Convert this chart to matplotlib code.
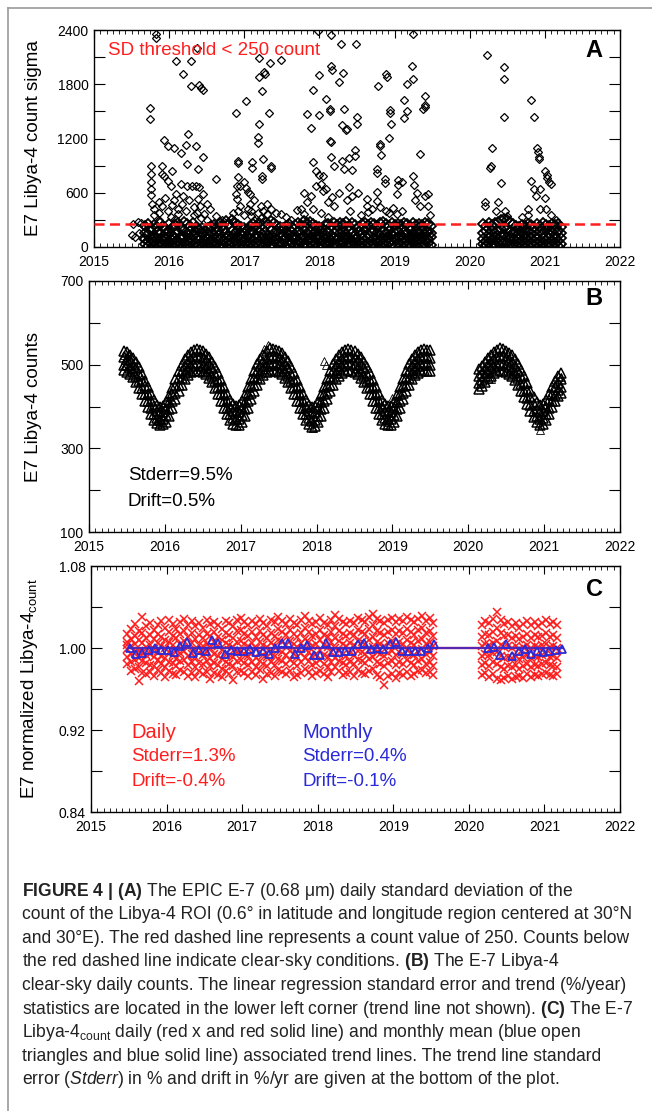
#!/usr/bin/env python3
"""
EPIC E-7 Libya-4 stability figure (3 stacked panels + caption)
"""

import numpy as np
import matplotlib
matplotlib.use("Agg")
import matplotlib.pyplot as plt
from matplotlib.lines import Line2D
from matplotlib.ticker import MultipleLocator

plt.rcParams['font.family'] = ['Liberation Sans', 'DejaVu Sans']
plt.rcParams['mathtext.fontset'] = 'custom'
plt.rcParams['mathtext.rm'] = 'Liberation Sans'
plt.rcParams['mathtext.it'] = 'Liberation Sans:italic'
plt.rcParams['mathtext.bf'] = 'Liberation Sans:bold'

# ---------------------------------------------------------------- data
# Panel A: daily count sigma. Dense clear-sky band (4 readings per ~2 weeks)
a_band1 = [
    [235, 160, 85, 30], [250, 140, 70, 15], [210, 175, 95, 40], [245, 120, 60, 10],
    [225, 165, 100, 25], [260, 150, 55, 20], [230, 110, 75, 35], [200, 145, 90, 12],
    [255, 180, 65, 28], [215, 130, 80, 18], [240, 155, 105, 45], [270, 170, 60, 22],
    [225, 125, 85, 30], [280, 190, 110, 40], [250, 145, 70, 15], [235, 175, 95, 50],
    [265, 135, 65, 25], [220, 160, 100, 35], [195, 120, 80, 20], [210, 150, 55, 10],
    [175, 115, 70, 30], [205, 140, 90, 15], [230, 165, 75, 40], [245, 130, 60, 20],
    [220, 170, 105, 35], [260, 145, 85, 25], [240, 185, 70, 18], [285, 160, 95, 40],
    [255, 125, 80, 30], [300, 175, 110, 45], [270, 150, 65, 22], [245, 190, 100, 35],
    [225, 140, 85, 28], [210, 160, 75, 15], [190, 125, 60, 20], [230, 155, 90, 30],
    [250, 170, 80, 25], [235, 135, 100, 40], [265, 180, 70, 20], [240, 145, 95, 35],
    [275, 165, 85, 30], [250, 130, 75, 45], [290, 185, 105, 25], [260, 155, 70, 15],
    [235, 175, 90, 35], [225, 140, 60, 20], [205, 125, 80, 30], [230, 160, 100, 12],
    [255, 145, 70, 25], [220, 170, 95, 40], [245, 135, 85, 20], [270, 180, 65, 30],
    [240, 155, 100, 45], [285, 190, 110, 35], [260, 150, 80, 25], [275, 165, 95, 40],
    [250, 140, 70, 20], [235, 175, 100, 30], [225, 130, 85, 15], [210, 160, 75, 25],
    [240, 145, 95, 35], [255, 170, 60, 20], [230, 125, 80, 40], [265, 155, 100, 28],
    [245, 180, 90, 18], [270, 150, 70, 32], [250, 165, 105, 45], [280, 140, 85, 25],
    [235, 175, 95, 35], [260, 160, 75, 20], [245, 135, 90, 30], [225, 170, 65, 15],
    [250, 150, 100, 40], [265, 185, 80, 25], [240, 140, 95, 35], [270, 165, 70, 20],
    [255, 175, 105, 30], [235, 150, 85, 45], [260, 130, 75, 25], [280, 170, 95, 35],
    [250, 155, 65, 20], [230, 180, 100, 40], [265, 145, 80, 30], [245, 160, 90, 15],
    [255, 175, 110, 35], [240, 135, 75, 25], [270, 165, 95, 40], [250, 150, 70, 20],
    [235, 185, 105, 30], [260, 140, 85, 45], [245, 170, 95, 25], [255, 155, 80, 35],
    [240, 180, 100, 20], [265, 145, 75, 30], [250, 165, 90, 40], [235, 150, 110, 25],
]
a_band2 = [
    [250, 160, 90, 30], [235, 175, 70, 20], [260, 140, 100, 40], [245, 180, 85, 25],
    [270, 155, 110, 35], [280, 190, 95, 45], [300, 200, 120, 50], [310, 210, 130, 55],
    [295, 195, 115, 45], [275, 170, 100, 35], [250, 150, 85, 25], [235, 165, 70, 20],
    [220, 140, 90, 30], [245, 160, 75, 15], [230, 135, 95, 40], [255, 175, 80, 25],
    [240, 150, 100, 35], [225, 165, 70, 20], [250, 140, 90, 30], [235, 170, 60, 15],
    [260, 150, 95, 40], [245, 185, 80, 25], [230, 145, 100, 35], [250, 165, 75, 20],
    [240, 130, 90, 30], [255, 175, 70, 15], [225, 150, 95, 35],
]
a_band1_years = np.linspace(2015.68, 2019.48, len(a_band1))
a_band2_years = np.linspace(2020.18, 2021.22, len(a_band2))

# cloudy / scattered days (year, sigma)
a_scatter = [
    (2015.50, 130), (2015.52, 250), (2015.55, 110), (2015.58, 275), (2015.60, 160),
    (2015.62, 265), (2015.64, 95), (2015.66, 230),
    (2015.74, 1532), (2015.74, 1412), (2015.76, 894), (2015.76, 803), (2015.76, 723),
    (2015.76, 639), (2015.76, 574), (2015.77, 480), (2015.80, 420), (2015.80, 350),
    (2015.83, 2352), (2015.83, 2308), (2015.86, 500), (2015.86, 380), (2015.87, 300),
    (2015.90, 894), (2015.90, 803), (2015.91, 450), (2015.93, 1186), (2015.93, 785),
    (2015.94, 540), (2015.98, 1113), (2015.98, 730), (2015.99, 400), (2016.02, 680),
    (2016.02, 330), (2016.04, 840), (2016.04, 460), (2016.07, 1095), (2016.07, 520),
    (2016.08, 310), (2016.09, 2060), (2016.09, 585), (2016.12, 420), (2016.12, 360),
    (2016.16, 1040), (2016.16, 694), (2016.17, 480), (2016.19, 1915), (2016.19, 560),
    (2016.23, 1131), (2016.23, 400), (2016.24, 913), (2016.24, 676), (2016.25, 1251),
    (2016.26, 520), (2016.29, 2053), (2016.29, 1780), (2016.30, 676), (2016.33, 440),
    (2016.33, 350), (2016.36, 1120), (2016.36, 676), (2016.37, 380), (2016.37, 2199),
    (2016.38, 858), (2016.38, 530), (2016.40, 1787), (2016.40, 661), (2016.41, 450),
    (2016.42, 1762), (2016.42, 320), (2016.45, 1732), (2016.45, 992), (2016.45, 585),
    (2016.46, 360), (2016.50, 480), (2016.50, 300), (2016.55, 420), (2016.62, 749),
    (2016.62, 340), (2016.70, 300), (2016.85, 380), (2016.85, 290), (2016.89, 1478),
    (2016.89, 585), (2016.90, 676), (2016.90, 530), (2016.91, 402), (2016.91, 949),
    (2016.92, 934), (2016.92, 770), (2016.94, 676), (2016.94, 450), (2017.00, 715),
    (2017.00, 350), (2017.02, 1616), (2017.02, 650), (2017.05, 606), (2017.05, 420),
    (2017.08, 585), (2017.08, 475), (2017.09, 402), (2017.09, 348), (2017.10, 942),
    (2017.10, 869), (2017.13, 520), (2017.13, 300), (2017.18, 1150), (2017.18, 1215),
    (2017.18, 380), (2017.19, 2090), (2017.20, 1361), (2017.20, 1878), (2017.22, 450),
    (2017.22, 320), (2017.23, 1721), (2017.23, 785), (2017.24, 749), (2017.25, 975),
    (2017.25, 400), (2017.26, 1932), (2017.27, 1915), (2017.30, 370), (2017.30, 480),
    (2017.33, 1478), (2017.34, 2031), (2017.35, 894), (2017.35, 876), (2017.36, 420),
    (2017.42, 380), (2017.49, 2068), (2017.49, 370), (2017.55, 330), (2017.62, 300),
    (2017.70, 410), (2017.76, 420), (2017.80, 370), (2017.80, 600), (2017.84, 1467),
    (2017.84, 500), (2017.89, 1314), (2017.89, 560), (2017.91, 1732), (2017.91, 940),
    (2017.92, 420), (2017.95, 840), (2017.95, 680), (2017.98, 2388), (2017.99, 1907),
    (2017.99, 1459), (2018.00, 800), (2018.02, 700), (2018.02, 380), (2018.05, 780),
    (2018.05, 620), (2018.09, 1634), (2018.09, 640), (2018.12, 500), (2018.12, 330),
    (2018.14, 1525), (2018.14, 1506), (2018.14, 1175), (2018.15, 1157), (2018.15, 1000),
    (2018.16, 2345), (2018.16, 1998), (2018.17, 1959), (2018.17, 550), (2018.20, 900),
    (2018.20, 450), (2018.26, 1823), (2018.26, 600), (2018.29, 2250), (2018.30, 1350),
    (2018.30, 950), (2018.31, 1922), (2018.33, 1525), (2018.33, 860), (2018.36, 1295),
    (2018.37, 1310), (2018.37, 520), (2018.40, 980), (2018.40, 660), (2018.41, 400),
    (2018.44, 850), (2018.44, 560), (2018.47, 1003), (2018.47, 1077), (2018.49, 2250),
    (2018.50, 1434), (2018.50, 1357), (2018.51, 600), (2018.55, 350), (2018.63, 530),
    (2018.63, 450), (2018.64, 390), (2018.70, 420), (2018.76, 866), (2018.76, 814),
    (2018.77, 607), (2018.77, 512), (2018.78, 1780), (2018.80, 1142), (2018.80, 1120),
    (2018.81, 440), (2018.82, 1022), (2018.87, 749), (2018.87, 713), (2018.88, 400),
    (2018.89, 1915), (2018.90, 1878), (2018.93, 1211), (2018.93, 380), (2018.94, 1514),
    (2018.94, 1481), (2018.95, 1361), (2018.98, 430), (2019.03, 585), (2019.03, 360),
    (2019.05, 745), (2019.05, 690), (2019.10, 720), (2019.10, 400), (2019.12, 1623),
    (2019.13, 1430), (2019.16, 1506), (2019.17, 1805), (2019.23, 2006), (2019.24, 2359),
    (2019.24, 1853), (2019.25, 785), (2019.26, 690), (2019.27, 520), (2019.30, 600),
    (2019.34, 1029), (2019.34, 450), (2019.38, 1521), (2019.40, 1543), (2019.40, 1568),
    (2019.41, 560), (2019.41, 1667), (2019.44, 590), (2019.44, 450), (2019.47, 350),
    (2020.21, 500), (2020.21, 450), (2020.23, 2122), (2020.27, 869), (2020.28, 894),
    (2020.29, 1098), (2020.35, 400), (2020.38, 497), (2020.41, 713), (2020.45, 1987),
    (2020.45, 1856), (2020.46, 1440), (2020.47, 400), (2020.50, 345), (2020.70, 330),
    (2020.78, 420), (2020.78, 350), (2020.82, 1623), (2020.82, 727), (2020.85, 1440),
    (2020.85, 640), (2020.88, 560), (2020.90, 1100), (2020.91, 1050), (2020.92, 1000),
    (2020.92, 970), (2020.93, 640), (2020.93, 420), (2021.00, 840), (2021.00, 540),
    (2021.01, 420), (2021.03, 800), (2021.03, 760), (2021.06, 720), (2021.08, 694),
    (2021.08, 350), (2021.15, 300),
]
a_threshold = 250

# Panel B: clear-sky daily counts (4 readings per ~2 weeks across the band)
b_band1 = [
    [532, 518, 500, 488], [530, 514, 499, 483], [524, 511, 492, 478], [517, 500, 486, 470],
    [506, 492, 473, 459], [494, 477, 462, 445], [478, 464, 445, 431], [461, 448, 430, 414],
    [446, 429, 413, 398], [430, 414, 396, 382], [415, 401, 383, 368], [404, 390, 373, 360],
    [400, 386, 368, 356], [402, 388, 370, 357], [411, 395, 379, 364], [426, 411, 394, 378],
    [445, 430, 412, 397], [466, 449, 432, 417], [484, 469, 451, 436], [500, 485, 468, 452],
    [513, 498, 481, 466], [523, 507, 490, 476], [531, 514, 496, 482], [536, 519, 501, 486],
    [538, 520, 503, 485], [535, 518, 500, 484], [532, 516, 498, 483], [526, 510, 493, 478],
    [518, 502, 485, 469], [507, 491, 474, 458], [494, 478, 461, 445], [479, 463, 446, 430],
    [463, 447, 430, 414], [446, 430, 413, 397], [430, 414, 397, 381], [416, 400, 383, 367],
    [405, 390, 373, 358], [401, 386, 369, 355], [403, 387, 370, 356], [412, 396, 379, 363],
    [427, 411, 394, 378], [446, 430, 413, 397], [466, 450, 433, 417], [485, 469, 452, 436],
    [501, 485, 468, 452], [514, 498, 481, 465], [524, 507, 490, 475], [532, 514, 497, 482],
    [540, 519, 502, 486], [537, 520, 503, 487], [536, 519, 502, 485], [533, 516, 499, 483],
    [527, 510, 493, 477], [519, 502, 485, 469], [508, 491, 474, 458], [495, 478, 461, 445],
    [480, 463, 446, 430], [464, 447, 430, 414], [447, 430, 413, 397], [431, 414, 397, 381],
    [416, 400, 383, 367], [404, 389, 372, 357], [399, 384, 366, 352], [401, 386, 368, 353],
    [411, 396, 378, 363], [427, 411, 394, 378], [446, 430, 413, 397], [466, 450, 433, 417],
    [485, 469, 452, 436], [501, 485, 468, 452], [514, 498, 481, 465], [523, 507, 490, 474],
    [531, 514, 497, 481], [536, 519, 502, 486], [537, 520, 503, 487], [535, 519, 502, 486],
    [532, 516, 499, 483], [526, 510, 493, 477], [518, 502, 485, 469], [507, 491, 474, 458],
    [494, 478, 461, 445], [479, 463, 446, 430], [463, 447, 430, 414], [446, 430, 413, 397],
    [430, 414, 397, 381], [416, 400, 383, 367], [405, 390, 373, 358], [401, 386, 369, 355],
    [402, 387, 370, 356], [411, 396, 379, 363], [427, 411, 394, 378], [446, 430, 413, 397],
    [466, 450, 433, 417], [485, 469, 452, 436], [501, 485, 468, 452], [514, 498, 481, 465],
    [523, 507, 490, 475], [530, 514, 497, 481], [535, 519, 502, 486], [537, 520, 503, 487],
    [536, 519, 502, 485], [534, 517, 500, 484],
]
b_band2 = [
    [490, 474, 457, 443], [497, 481, 464, 449], [506, 490, 473, 458], [515, 499, 482, 467],
    [523, 506, 489, 474], [530, 513, 495, 480], [535, 518, 500, 485], [539, 521, 503, 487],
    [537, 520, 502, 486], [533, 517, 499, 483], [528, 512, 494, 478], [522, 506, 488, 472],
    [513, 497, 479, 463], [502, 486, 468, 452], [488, 472, 454, 438], [472, 456, 438, 422],
    [455, 439, 421, 405], [438, 422, 404, 389], [422, 407, 389, 374], [410, 395, 377, 362],
    [403, 388, 370, 356], [405, 390, 372, 358], [415, 400, 382, 367], [430, 415, 397, 382],
    [446, 431, 413, 398], [461, 446, 428, 413], [472, 457, 439, 424], [479, 465, 447, 432],
]
b_band1_years = np.linspace(2015.46, 2019.50, len(b_band1))
b_band2_years = np.linspace(2020.14, 2021.22, len(b_band2))
b_scatter = [
    (2015.46, 522), (2015.48, 512), (2015.52, 525), (2015.47, 500), (2016.02, 415),
    (2015.95, 362), (2017.36, 548), (2017.31, 538), (2018.10, 508), (2018.13, 500),
    (2017.95, 348), (2018.93, 362), (2019.00, 420), (2020.95, 345), (2020.30, 465),
    (2021.22, 470),
]

# Panel C: normalized counts, daily spread in per-mille deviation from 1
c_daily1 = [
    [14, 6, -1, -9, -16, 3], [19, 9, 2, -6, -14, -22], [23, 12, 4, -4, -12, -20],
    [17, 8, -3, -10, -19, -32], [30, 15, 5, -5, -13, -24], [21, 10, 1, -7, -15, -25],
    [24, 13, 3, -6, -17, -23], [18, 9, -1, -9, -18, -27], [22, 14, 5, -3, -12, -21],
    [26, 11, 2, -8, -16, -24], [20, 8, 0, -10, -19, -28], [27, 16, 6, -4, -14, -22],
    [23, 12, 3, -7, -15, -25], [19, 10, -2, -11, -18, -26], [25, 14, 4, -5, -13, -21],
    [28, 17, 7, -3, -12, -23], [22, 11, 1, -8, -17, -27], [26, 15, 5, -6, -14, -24],
    [21, 9, -1, -9, -19, -28], [24, 13, 3, -5, -15, -22], [20, 10, 2, -7, -16, -25],
    [27, 14, 4, -4, -13, -23], [23, 12, 0, -10, -18, -30], [25, 16, 6, -6, -15, -24],
    [22, 11, 2, -8, -17, -26], [19, 8, -2, -11, -20, -28], [26, 15, 5, -5, -14, -22],
    [24, 13, 3, -7, -16, -25], [21, 10, 1, -9, -18, -31], [27, 17, 6, -4, -13, -23],
    [29, 18, 7, -3, -12, -22], [25, 14, 4, -6, -15, -24], [22, 12, 2, -8, -17, -27],
    [26, 16, 5, -5, -14, -23], [23, 11, 0, -10, -19, -26], [28, 17, 6, -4, -13, -21],
    [24, 13, 3, -7, -16, -30], [21, 10, 1, -9, -18, -25], [27, 15, 5, -5, -14, -24],
    [25, 12, 2, -8, -17, -27], [30, 19, 8, -2, -11, -21], [26, 16, 6, -4, -13, -23],
    [23, 13, 3, -7, -16, -25], [28, 18, 7, -3, -12, -22], [24, 14, 4, -6, -15, -28],
    [22, 11, 1, -9, -18, -26], [27, 15, 5, -5, -14, -24], [31, 20, 9, -1, -10, -20],
    [26, 16, 6, -4, -13, -23], [23, 12, 2, -8, -17, -27], [25, 14, 4, -6, -15, -24],
    [29, 18, 8, -2, -12, -22], [24, 13, 3, -7, -16, -25], [22, 11, 1, -9, -19, -28],
    [27, 16, 6, -4, -14, -23], [32, 21, 10, 0, -10, -19], [28, 17, 7, -3, -13, -22],
    [25, 14, 4, -6, -15, -26], [23, 12, 2, -8, -17, -24], [26, 15, 5, -5, -14, -23],
    [24, 13, 3, -7, -16, -27], [29, 18, 7, -3, -12, -21], [27, 16, 6, -4, -13, -24],
    [25, 14, 4, -6, -15, -25], [30, 19, 8, -2, -11, -22], [33, 22, 11, 1, -9, -20],
    [28, 17, 6, -4, -14, -26], [26, 15, 4, -6, -16, -28], [24, 13, 2, -8, -18, -36],
    [27, 16, 5, -5, -15, -27], [29, 18, 7, -3, -13, -25], [25, 14, 3, -7, -17, -29],
    [28, 17, 6, -4, -14, -24], [26, 15, 4, -6, -16, -26], [30, 19, 8, -2, -12, -23],
    [27, 16, 5, -5, -15, -27], [25, 13, 3, -7, -17, -25], [28, 18, 7, -3, -13, -22],
    [31, 20, 9, -1, -11, -21], [26, 15, 4, -6, -16, -24], [29, 17, 6, -4, -14, -23],
    [24, 12, 2, -8, -18, -26],
]
c_daily2 = [
    [22, 11, 2, -8, -17, -26], [26, 14, 4, -6, -15, -24], [24, 13, 3, -7, -18, -28],
    [28, 16, 5, -5, -14, -25], [35, 20, 7, -4, -16, -30], [27, 15, 3, -8, -19, -31],
    [23, 12, 1, -10, -20, -29], [25, 13, 2, -9, -18, -27], [21, 10, 0, -10, -19, -30],
    [24, 12, 2, -8, -17, -28], [20, 9, -1, -11, -20, -27], [23, 11, 1, -9, -18, -29],
    [26, 14, 3, -7, -16, -25], [22, 10, 0, -10, -19, -28], [25, 13, 2, -8, -17, -26],
    [21, 11, 1, -9, -18, -27], [24, 12, 3, -7, -16, -25], [27, 15, 4, -6, -15, -24],
    [23, 11, 1, -9, -17, -26], [25, 13, 2, -8, -18, -27], [22, 10, 0, -10, -19, -25],
]
c_daily1_years = np.linspace(2015.48, 2019.53, len(c_daily1))
c_daily2_years = np.linspace(2020.17, 2021.17, len(c_daily2))

# monthly means
c_monthly1 = [
    1.000, 0.994, 0.995, 0.998, 1.000, 0.998, 0.998, 0.996, 1.002, 1.006,
    0.995, 0.998, 0.997, 1.008, 1.005, 0.994, 0.998, 0.997, 0.997, 0.999,
    0.996, 0.997, 0.994, 1.000, 1.005, 1.005, 0.994, 1.000, 1.003, 0.993,
    0.993, 1.005, 0.996, 0.996, 0.997, 0.997, 1.004, 1.005, 0.999, 1.000,
    0.999, 1.004, 1.006, 0.997, 0.997, 0.997, 0.997, 1.000, 1.004,
]
c_monthly2 = [
    1.000, 1.001, 0.993, 1.004, 0.992, 0.997, 0.999, 0.994, 0.997, 0.996,
    0.997, 0.998, 0.999,
]
c_monthly1_years = np.linspace(2015.51, 2019.54, len(c_monthly1))
c_monthly2_years = np.linspace(2020.25, 2021.23, len(c_monthly2))
c_trend_years = [2015.50, 2021.23]
c_trend_daily = [1.000, 1.000]
c_trend_monthly = [1.000, 1.000]

caption_lines = [
    r"$\mathbf{FIGURE\ 4\ |\ (A)}$ The EPIC E-7 (0.68 μm) daily standard deviation of the",
    "count of the Libya-4 ROI (0.6° in latitude and longitude region centered at 30°N",
    "and 30°E). The red dashed line represents a count value of 250. Counts below",
    r"the red dashed line indicate clear-sky conditions. $\mathbf{(B)}$ The E-7 Libya-4",
    "clear-sky daily counts. The linear regression standard error and trend (%/year)",
    r"statistics are located in the lower left corner (trend line not shown). $\mathbf{(C)}$ The E-7",
    r"Libya-4$_{\mathrm{count}}$ daily (red x and red solid line) and monthly mean (blue open",
    "triangles and blue solid line) associated trend lines. The trend line standard",
    r"error ($\mathit{Stderr}$) in % and drift in %/yr are given at the bottom of the plot.",
]

RED = '#ff1e1e'
BLUE = '#2a2ad8'
W, H = 652, 1111


def add_axes_px(fig, left, top, right, bottom):
    return fig.add_axes([left / W, 1 - bottom / H, (right - left) / W, (bottom - top) / H])


def idl_style(ax, ylim, yticks, ylabels):
    ax.set_xlim(2015, 2022)
    ax.set_ylim(*ylim)
    ax.set_xticks(range(2015, 2023))
    ax.xaxis.set_minor_locator(MultipleLocator(1 / 12))
    ax.set_yticks(yticks)
    ax.set_yticklabels(ylabels)
    ax.tick_params(axis='x', which='major', direction='in', length=6, width=0.8,
                   top=True, bottom=True, labelsize=10, pad=6)
    ax.tick_params(axis='x', which='minor', direction='in', length=3, width=0.6,
                   top=True, bottom=True)
    ax.tick_params(axis='y', which='major', direction='in', length=8, width=0.8,
                   left=True, right=True, labelsize=10, pad=4)
    for s in ax.spines.values():
        s.set_linewidth(1.0)


def band_xy(years, rows):
    rows = np.asarray(rows, dtype=float)
    return np.repeat(years, rows.shape[1]), rows.ravel()


fig = plt.figure(figsize=(W / 100, H / 100), dpi=100)

# ---------------------------------------------------------------- panel A
axA = add_axes_px(fig, 94, 30, 620, 247)
for yrs, rows in ((a_band1_years, a_band1), (a_band2_years, a_band2)):
    x, y = band_xy(yrs, rows)
    axA.plot(x, y, ls='none', marker='D', ms=5.5, mfc='none', mec='k', mew=1.3)
sx, sy = zip(*a_scatter)
axA.plot(sx, sy, ls='none', marker='D', ms=4.5, mfc='none', mec='k', mew=0.9)
axA.axhline(a_threshold, color=RED, ls=(0, (4, 2.2)), lw=1.8, zorder=3)
idl_style(axA, (0, 2400), np.arange(0, 2401, 300),
          ['0', '', '600', '', '1200', '', '1800', '', '2400'])
axA.set_ylabel('E7 Libya-4 count sigma', fontsize=13.5)
axA.yaxis.set_label_coords(-0.099, 0.5)
axA.text(0.027, 0.905, 'SD threshold < 250 count', color=RED, fontsize=13.5,
         transform=axA.transAxes, ha='left', va='center')
axA.text(0.951, 0.905, 'A', fontsize=17, fontweight='bold',
         transform=axA.transAxes, ha='center', va='center')

# ---------------------------------------------------------------- panel B
axB = add_axes_px(fig, 89, 281, 620, 532)
for yrs, rows in ((b_band1_years, b_band1), (b_band2_years, b_band2)):
    x, y = band_xy(yrs, rows)
    axB.plot(x, y, ls='none', marker='^', ms=6.5, mfc='none', mec='k', mew=1.1)
sx, sy = zip(*b_scatter)
axB.plot(sx, sy, ls='none', marker='^', ms=6, mfc='none', mec='k', mew=0.6)
idl_style(axB, (100, 700), np.arange(100, 701, 100),
          ['100', '', '300', '', '500', '', '700'])
axB.set_ylabel('E7 Libya-4 counts', fontsize=13.5)
axB.yaxis.set_label_coords(-0.089, 0.5)
axB.text(0.073, 0.227, 'Stderr=9.5%', fontsize=13.5, transform=axB.transAxes,
         ha='left', va='center')
axB.text(0.073, 0.12, 'Drift=0.5%', fontsize=13.5, transform=axB.transAxes,
         ha='left', va='center')
axB.text(0.951, 0.932, 'B', fontsize=17, fontweight='bold',
         transform=axB.transAxes, ha='center', va='center')

# ---------------------------------------------------------------- panel C
axC = add_axes_px(fig, 91, 566, 620, 812)
for yrs, rows in ((c_daily1_years, c_daily1), (c_daily2_years, c_daily2)):
    x, y = band_xy(yrs, rows)
    axC.plot(x, 1 + y / 1000.0, ls='none', marker='x', ms=6, mec=RED, mew=1.1)
axC.plot(c_trend_years, c_trend_daily, color=RED, lw=1.6)
axC.plot(c_trend_years, c_trend_monthly, color=BLUE, lw=1.6, alpha=0.8)
axC.plot(c_monthly1_years, c_monthly1, ls='none', marker='^', ms=6, mfc='none',
         mec=BLUE, mew=1.3)
axC.plot(c_monthly2_years, c_monthly2, ls='none', marker='^', ms=6, mfc='none',
         mec=BLUE, mew=1.3)
idl_style(axC, (0.84, 1.08), np.round(np.arange(0.84, 1.081, 0.04), 2),
          ['0.84', '', '0.92', '', '1.00', '', '1.08'])
axC.set_ylabel(r'E7 normalized Libya-4$_{\mathrm{count}}$', fontsize=13.5)
axC.yaxis.set_label_coords(-0.096, 0.5)
for i, (txt, dy) in enumerate((('Daily', 0.325), ('Stderr=1.3%', 0.224), ('Drift=-0.4%', 0.122))):
    axC.text(0.076, dy, txt, color=RED, fontsize=14.5 if i == 0 else 13.5,
             transform=axC.transAxes, ha='left', va='center')
for i, (txt, dy) in enumerate((('Monthly', 0.325), ('Stderr=0.4%', 0.224), ('Drift=-0.1%', 0.122))):
    axC.text(0.399, dy, txt, color=BLUE, fontsize=14.5 if i == 0 else 13.5,
             transform=axC.transAxes, ha='left', va='center')
axC.text(0.951, 0.906, 'C', fontsize=17, fontweight='bold',
         transform=axC.transAxes, ha='center', va='center')

# ---------------------------------------------------------------- frame + caption
fig.add_artist(Line2D([8 / W, 1], [1 - 8 / H, 1 - 8 / H], color='#9a9a9a', lw=1.2))
fig.add_artist(Line2D([8 / W, 8 / W], [0, 1 - 8 / H], color='#9a9a9a', lw=1.2))

cap = [fig.text(22 / W, 1 - (891 + 23.6 * i) / H, line, fontsize=12, color='#222222',
                ha='left', va='center') for i, line in enumerate(caption_lines)]
fig.canvas.draw()
renderer = fig.canvas.get_renderer()
width = cap[1].get_window_extent(renderer).width
for t in cap:
    t.set_fontsize(12 * 615 / width)

fig.savefig('out.png', dpi=100)
